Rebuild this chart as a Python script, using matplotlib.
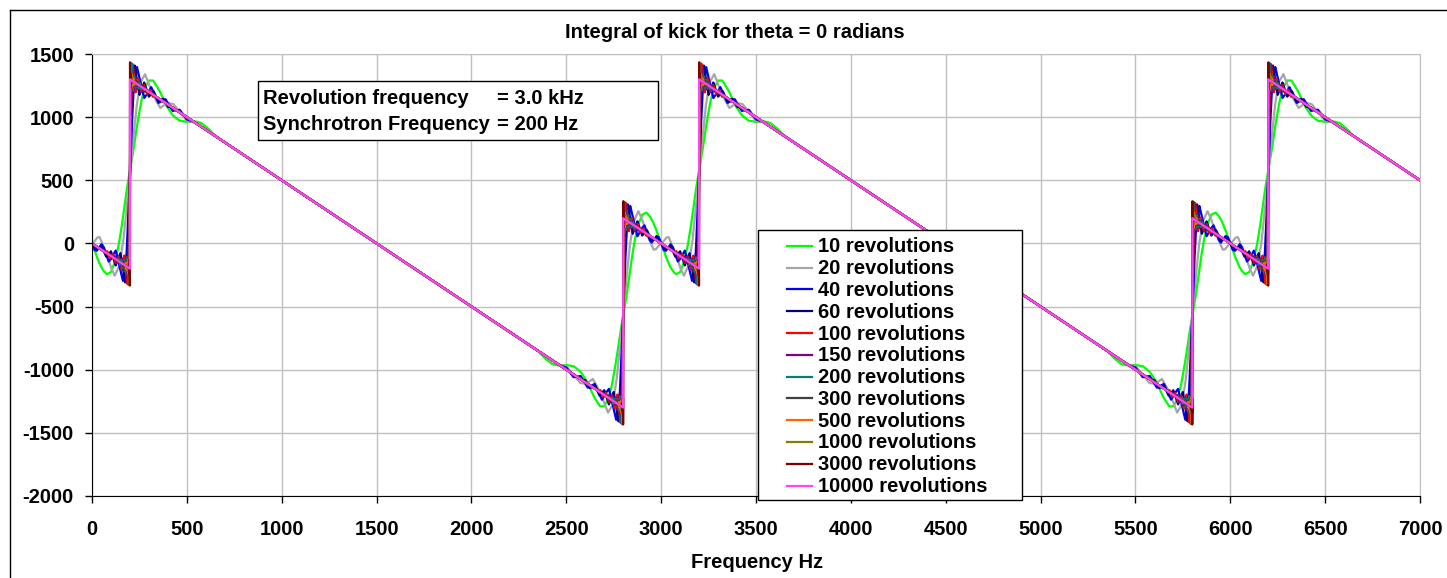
import numpy as np
import matplotlib.pyplot as plt
from matplotlib.patches import Rectangle
from matplotlib.lines import Line2D

plt.rcParams['font.family'] = ['Liberation Sans', 'DejaVu Sans']
plt.rcParams['font.weight'] = 'bold'
plt.rcParams['axes.unicode_minus'] = False

W, H = 1447, 578

# ---- data ----
# ideal sawtooth: ramp of slope -1 with upward jumps of 1500 at these frequencies
jump_freqs = [-200, 200, 2800, 3200, 5800, 6200]
jump_height = 1500
ramp_start = -1500
ramp_slope = -1.0
freq_max = 7000

revolutions = [10, 20, 40, 60, 100, 150, 200, 300, 500, 1000, 3000, 10000]
colors = ['#00FF00', '#A6A6A6', '#0000FF', '#000080', '#FF0000', '#800080',
          '#008080', '#404040', '#FF6600', '#808000', '#800000', '#FF44FF']

# step response around each jump (offset Hz, fraction of jump)
green_d = [-450, -410, -375, -340, -300, -260, -225, -190, -155, -122, -100, -80, -61, -45, -30, -15,
           0, 15, 30, 45, 61, 80, 100, 122, 155, 190, 225, 260, 300, 340, 375, 410, 450]
green_s = [0.0, -0.015, -0.02, -0.005, 0.025, 0.045, 0.04, 0.01, -0.045, -0.075, -0.06, -0.01, 0.07, 0.17, 0.28, 0.4,
           0.5, 0.6, 0.72, 0.83, 0.93, 1.01, 1.06, 1.075, 1.045, 0.99, 0.96, 0.955, 0.975, 1.005, 1.02, 1.015, 1.0]

gray_d = [-340, -300, -265, -228, -195, -160, -120, -80, -55, -35, -15,
          0, 15, 35, 55, 80, 120, 160, 195, 228, 265, 300, 340]
gray_s = [0.0, 0.02, 0.0, -0.022, -0.005, 0.045, 0.0, -0.08, -0.02, 0.12, 0.33,
          0.5, 0.67, 0.88, 1.02, 1.08, 1.0, 0.955, 1.005, 1.022, 1.0, 0.98, 1.0]

# ringing shape shared by the finer series
ring_s = [0.0, 0.012, -0.014, 0.017, -0.02, 0.025, -0.033, 0.013, 0.049, -0.02, -0.089, 0.064, 0.26,
          0.5, 0.74, 0.936, 1.089, 1.02, 0.951, 0.987, 1.033, 0.975, 1.02, 0.983, 1.014, 0.988, 1.0]
blue_d = [-335, -300, -262, -225, -187, -150, -112, -93, -75, -56, -37, -18, -9,
          0, 9, 18, 37, 56, 75, 93, 112, 150, 187, 225, 262, 300, 335]
navy_d = [-225, -200, -175, -150, -125, -100, -75, -62, -50, -37, -25, -12, -6,
          0, 6, 12, 25, 37, 50, 62, 75, 100, 125, 150, 175, 200, 225]
red_d = [-135, -120, -105, -90, -75, -60, -45, -37, -30, -22, -15, -7, -4,
         0, 4, 7, 15, 22, 30, 37, 45, 60, 75, 90, 105, 120, 135]
purple_d = [-90, -80, -70, -60, -50, -40, -30, -25, -20, -15, -10, -5, -2.5,
            0, 2.5, 5, 10, 15, 20, 25, 30, 40, 50, 60, 70, 80, 90]
teal_d = [-67, -60, -52, -45, -37, -30, -22, -19, -15, -11, -7.5, -3.75, -1.9,
          0, 1.9, 3.75, 7.5, 11, 15, 19, 22, 30, 37, 45, 52, 60, 67]
dgray_d = [-45, -40, -35, -30, -25, -20, -15, -12.5, -10, -7.5, -5, -2.5, -1.25,
           0, 1.25, 2.5, 5, 7.5, 10, 12.5, 15, 20, 25, 30, 35, 40, 45]
orange_d = [-27, -24, -21, -18, -15, -12, -9, -7.5, -6, -4.5, -3, -1.5, -0.75,
            0, 0.75, 1.5, 3, 4.5, 6, 7.5, 9, 12, 15, 18, 21, 24, 27]
olive_d = [-13.5, -12, -10.5, -9, -7.5, -6, -4.5, -3.75, -3, -2.25, -1.5, -0.75, -0.5,
           0, 0.5, 0.75, 1.5, 2.25, 3, 3.75, 4.5, 6, 7.5, 9, 10.5, 12, 13.5]
dred_d = [-4.5, -4, -3.5, -3, -2.5, -2, -1.5, -1.25, -1, -0.75, -0.5, -0.25, -0.125,
          0, 0.125, 0.25, 0.5, 0.75, 1, 1.25, 1.5, 2, 2.5, 3, 3.5, 4, 4.5]
pink_d = [-0.25, 0, 0.25]
pink_s = [0.0, 0.5, 1.0]

profiles = [(green_d, green_s), (gray_d, gray_s), (blue_d, ring_s), (navy_d, ring_s),
            (red_d, ring_s), (purple_d, ring_s), (teal_d, ring_s), (dgray_d, ring_s),
            (orange_d, ring_s), (olive_d, ring_s), (dred_d, ring_s), (pink_d, pink_s)]

FS = 14.5


def fx(x):
    return x / W


def fy(y):
    return 1 - y / H


fig = plt.figure(figsize=(W / 100, H / 100), dpi=100)
ax = fig.add_axes([fx(92), fy(496), (1420 - 92) / W, (496 - 54) / H])

freq = np.arange(0, freq_max + 0.001, 0.25)
for n, col, (dd, ss) in zip(revolutions, colors, profiles):
    steps = sum(np.interp(freq - j, dd, ss, left=0.0, right=1.0) for j in jump_freqs)
    kick = ramp_start + ramp_slope * freq + jump_height * steps
    ax.plot(freq, kick, color=col, lw=1.6)

ax.set_xlim(0, 7000)
ax.set_ylim(-2000, 1500)
ax.set_xticks(np.arange(0, 7001, 500))
ax.set_yticks(np.arange(-2000, 1501, 500))
ax.grid(True, color='#c0c0c0', lw=1)
ax.set_axisbelow(True)
for s in ['top', 'right']:
    ax.spines[s].set_color('#c0c0c0')
ax.tick_params(axis='x', direction='out', length=5, width=1, labelsize=FS, pad=12)
ax.tick_params(axis='y', direction='out', length=5, width=1, labelsize=FS, pad=8)

fig.text(fx(735), fy(32), 'Integral of kick for theta = 0 radians', ha='center', va='center', fontsize=FS)
fig.text(fx(757), fy(562), 'Frequency Hz', ha='center', va='center', fontsize=FS)

# chart border (left and top visible)
fig.add_artist(Line2D([fx(10), fx(10)], [fy(10), 0], color='black', lw=1))
fig.add_artist(Line2D([fx(10), 1], [fy(10), fy(10)], color='black', lw=1))

# annotation box
fig.add_artist(Rectangle((fx(258), fy(140)), (658 - 258) / W, (140 - 81) / H,
                         transform=fig.transFigure, facecolor='white', edgecolor='black', lw=1))
fig.text(fx(263), fy(104), 'Revolution frequency', fontsize=FS, va='baseline')
fig.text(fx(263), fy(130), 'Synchrotron Frequency', fontsize=FS, va='baseline')
fig.text(fx(497), fy(104), '= 3.0 kHz', fontsize=FS, va='baseline')
fig.text(fx(497), fy(130), '= 200 Hz', fontsize=FS, va='baseline')

# legend box
fig.add_artist(Rectangle((fx(758), fy(500)), (1022 - 758) / W, (500 - 230) / H,
                         transform=fig.transFigure, facecolor='white', edgecolor='black', lw=1))
for i, (n, col) in enumerate(zip(revolutions, colors)):
    base = 252.3 + i * 21.8
    fig.add_artist(Line2D([fx(787), fx(812)], [fy(base - 6.6), fy(base - 6.6)], color=col, lw=1.6))
    fig.text(fx(818), fy(base), f'{n} revolutions', fontsize=FS, va='baseline')

fig.savefig('out.png', dpi=100)
